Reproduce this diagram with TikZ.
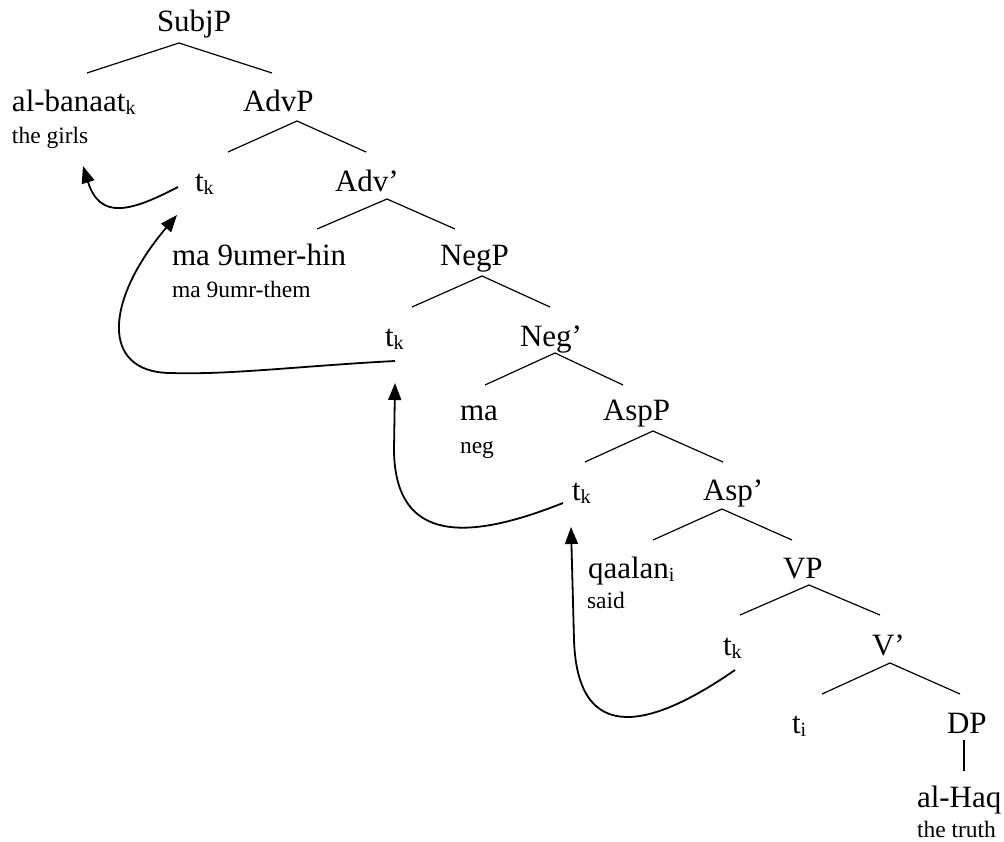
\documentclass[tikz,border=0pt]{standalone}
\usepackage{fontspec}
\setmainfont{Liberation Serif}
\usetikzlibrary{arrows.meta}

% lowered index letter for traces and co-indexed words
\newcommand\idx[1]{\raisebox{-3pt}{\fontsize{20}{20}\selectfont #1}}

\tikzset{
  word/.style={anchor=base west, inner sep=0pt, outer sep=0pt,
               font=\fontsize{31}{31}\selectfont},
  gloss/.style={anchor=base west, inner sep=0pt, outer sep=0pt,
                font=\fontsize{23.5}{23.5}\selectfont},
  branch/.style={line width=1.2pt},
  move/.style={line width=1.8pt, -{Triangle[length=17pt,width=13pt]}},
}

\begin{document}
\begin{tikzpicture}[x=1pt,y=-1pt]
\useasboundingbox (0,0) rectangle (1004,842);

% ---- labels (base-left corner at given point) ----
\node[word]  (subjp)    at (157,32)  {SubjP};
\node[word]  (albanaat) at (12,112)  {al-banaat\idx{k}};
\node[gloss] (girls)    at (12,144)  {the girls};
\node[word]  (advp)     at (243,112) {AdvP};
\node[word]  (tk1)      at (195,192) {t\idx{k}};
\node[word]  (advbar)   at (335,192) {Adv’};
\node[word]  (maumer)   at (172,266) {ma 9umer-hin};
\node[gloss] (maumr)    at (172,298) {ma 9umr-them};
\node[word]  (negp)     at (440,266) {NegP};
\node[word]  (tk2)      at (385,346) {t\idx{k}};
\node[word]  (negbar)   at (520,346) {Neg’};
\node[word]  (ma)       at (460,420) {ma};
\node[gloss] (neg)      at (460,453) {neg};
\node[word]  (aspp)     at (603,420) {AspP};
\node[word]  (tk3)      at (572,500) {t\idx{k}};
\node[word]  (aspbar)   at (703,500) {Asp’};
\node[word]  (qaalan)   at (588,578) {qaalan\idx{i}};
\node[gloss] (said)     at (587,608) {said};
\node[word]  (vp)       at (783,578) {VP};
\node[word]  (tk4)      at (723,655) {t\idx{k}};
\node[word]  (vbar)     at (872,655) {V’};
\node[word]  (ti)       at (792,733) {t\idx{i}};
\node[word]  (dp)       at (947,733) {DP};
\node[word]  (alhaq)    at (917,807) {al-Haq};
\node[gloss] (truth)    at (917,837) {the truth};

% ---- branch points ----
\coordinate (subjp-b) at (179,43);
\coordinate (albanaat-t) at (87,73);
\coordinate (advp-t) at (272,73);
\coordinate (advp-b) at (297,121);
\coordinate (tk1-t) at (228,152);
\coordinate (advbar-t) at (366,152);
\coordinate (advbar-b) at (387,199);
\coordinate (maumer-t) at (317,229);
\coordinate (negp-t) at (455,229);
\coordinate (negp-b) at (482,276);
\coordinate (tk2-t) at (412,307);
\coordinate (negbar-t) at (550,307);
\coordinate (negbar-b) at (555,353);
\coordinate (ma-t) at (485,385);
\coordinate (aspp-t) at (623,385);
\coordinate (aspp-b) at (653,431);
\coordinate (tk3-t) at (585,462);
\coordinate (aspbar-t) at (723,462);
\coordinate (aspbar-b) at (722,509);
\coordinate (qaalan-t) at (653,540);
\coordinate (vp-t) at (792,540);
\coordinate (vp-b) at (809,585);
\coordinate (tk4-t) at (740,615);
\coordinate (vbar-t) at (880,615);
\coordinate (vbar-b) at (890,663);
\coordinate (ti-t) at (822,694);
\coordinate (dp-t) at (960,694);
\coordinate (dp-b) at (964,740);
\coordinate (alhaq-t) at (964,771);

% ---- tree branches ----
\draw[branch] (albanaat-t) -- (subjp-b) -- (advp-t);
\draw[branch] (tk1-t) -- (advp-b) -- (advbar-t);
\draw[branch] (maumer-t) -- (advbar-b) -- (negp-t);
\draw[branch] (tk2-t) -- (negp-b) -- (negbar-t);
\draw[branch] (ma-t) -- (negbar-b) -- (aspp-t);
\draw[branch] (tk3-t) -- (aspp-b) -- (aspbar-t);
\draw[branch] (qaalan-t) -- (aspbar-b) -- (vp-t);
\draw[branch] (tk4-t) -- (vp-b) -- (vbar-t);
\draw[branch] (ti-t) -- (vbar-b) -- (dp-t);
\draw[branch] (dp-b) -- (alhaq-t);

% ---- movement arrows (trace to landing site) ----
\coordinate (m1s) at (178,187);  \coordinate (m1e) at (83,166);
\coordinate (m2s) at (395,361);  \coordinate (m2e) at (177,215);
\coordinate (m3s) at (563,503);  \coordinate (m3e) at (395,383);
\coordinate (m4s) at (735,670);  \coordinate (m4e) at (571,527);

\draw[move] (m1s) .. controls (130,212) and (100,220) .. (m1e);
\draw[move] (m2s) .. controls (300,366) and (230,375) .. (170,373)
                  .. controls (100,372) and (105,300) .. (m2e);
\draw[move] (m3s) .. controls (470,540) and (395,545) .. (394,450) -- (m3e);
\draw[move] (m4s) .. controls (670,715) and (578,760) .. (574,640) -- (m4e);

\end{tikzpicture}
\end{document}
